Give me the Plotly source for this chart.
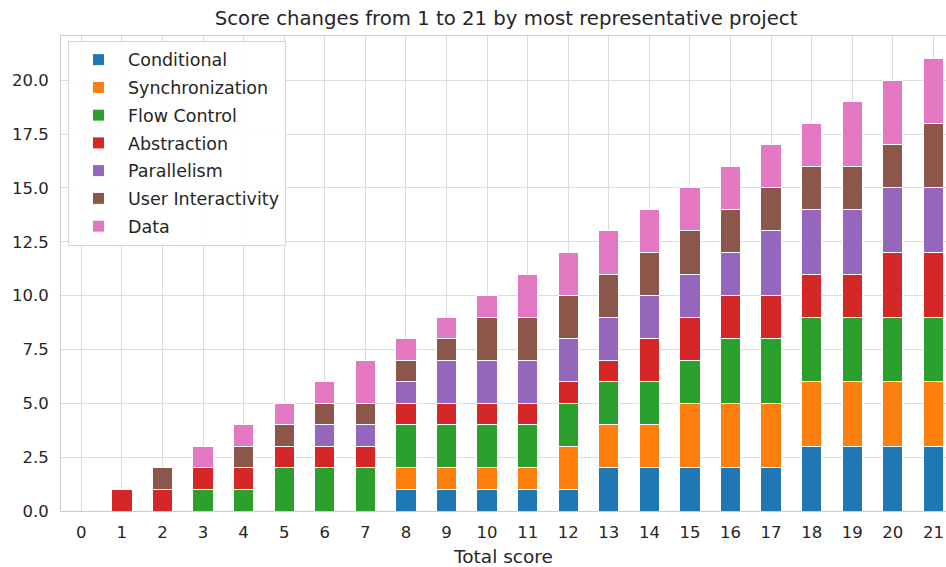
import plotly.graph_objects as go

scores = list(range(22))
tick_labels = [str(s) for s in scores]

conditional     = [0,0,0,0,0,0,0,0,1,1,1,1,1,2,2,2,2,2,3,3,3,3]
synchronization = [0,0,0,0,0,0,0,0,1,1,1,1,2,2,2,3,3,3,3,3,3,3]
flow_control    = [0,0,0,1,1,2,2,2,2,2,2,2,2,2,2,2,3,3,3,3,3,3]
abstraction     = [0,1,1,1,1,1,1,1,1,1,1,1,1,1,2,2,2,2,2,2,3,3]
parallelism     = [0,0,0,0,0,0,1,1,1,2,2,2,2,2,2,2,2,3,3,3,3,3]
user_interact   = [0,0,1,0,1,1,1,1,1,1,2,2,2,2,2,2,2,2,2,2,2,3]
data            = [0,0,0,1,1,1,1,2,1,1,1,2,2,2,2,2,2,2,2,3,3,3]

series = [
    ("Conditional", conditional, "#1f77b4"),
    ("Synchronization", synchronization, "#ff7f0e"),
    ("Flow Control", flow_control, "#2ca02c"),
    ("Abstraction", abstraction, "#d62728"),
    ("Parallelism", parallelism, "#9467bd"),
    ("User Interactivity", user_interact, "#8c564b"),
    ("Data", data, "#e377c2"),
]

fig = go.Figure()
for name, vals, col in series:
    fig.add_trace(go.Bar(x=scores, y=vals, name=name, legendgroup=name,
                         marker=dict(color=col, line=dict(color="white", width=1))))

font = "DejaVu Sans"
fig.update_layout(
    width=946, height=567,
    barmode="stack", bargap=0.5,
    plot_bgcolor="white", paper_bgcolor="white",
    margin=dict(l=61, r=0, t=36, b=56),
    font=dict(family=font, color="#262626", size=16.5),
    title=dict(text="Score changes from 1 to 21 by most representative project",
               x=0.535, xanchor="center", y=0.968, yanchor="middle",
               font=dict(size=19.7, color="#262626")),
    legend=dict(x=0.0079, y=0.99, xanchor="left", yanchor="top",
                bgcolor="rgba(255,255,255,0.9)", bordercolor="#d6d6d6", borderwidth=1,
                font=dict(size=17.5, color="#262626"), traceorder="grouped",
                tracegroupgap=2, itemwidth=49),
    xaxis=dict(range=[-0.5, 21.31], tickmode="array", tickvals=scores, ticktext=tick_labels,
               showgrid=True, gridcolor="#dcdcdc", gridwidth=1,
               showline=True, linecolor="#cccccc", linewidth=1, mirror=True,
               ticks="", tickfont=dict(size=16.5), zeroline=False, ticklabelstandoff=6,
               title=dict(text="Total score", font=dict(size=18.5), standoff=10)),
    yaxis=dict(range=[0, 22.05], tickmode="array",
               tickvals=[0, 2.5, 5, 7.5, 10, 12.5, 15, 17.5, 20],
               ticktext=["0.0", "2.5", "5.0", "7.5", "10.0", "12.5", "15.0", "17.5", "20.0"],
               showgrid=True, gridcolor="#dcdcdc", gridwidth=1,
               showline=True, linecolor="#cccccc", linewidth=1, mirror=True,
               ticks="", tickfont=dict(size=16.5), zeroline=False, ticklabelstandoff=8),
)

fig.write_html("out.html", config={"displayModeBar": False},
               post_script="document.body.style.margin='0';document.body.style.overflow='hidden';")
